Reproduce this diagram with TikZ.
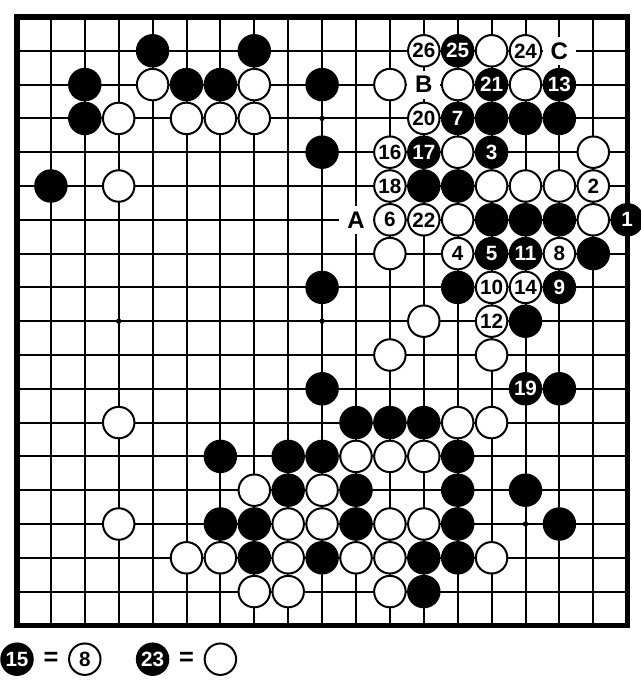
\documentclass[tikz,border=0pt]{standalone}
\usepackage{fontspec}
\setmainfont{Liberation Sans}
\begin{document}
\begin{tikzpicture}[x=25.425pt,y=-25.35pt,
  gridline/.style={line width=1.5pt},
  boardedge/.style={line width=3.8pt,line join=miter},
  stone/.style={circle,draw=black,line width=1.5pt,minimum size=23.6pt,inner sep=0pt,
    font=\fontsize{15.5}{15.5}\selectfont\bfseries},
  bst/.style={stone,fill=black,text=white},
  wst/.style={stone,fill=white,text=black},
  lbl/.style={rectangle,fill=white,inner sep=0pt,minimum width=25pt,minimum height=21pt,
    font=\fontsize{18}{18}\selectfont\bfseries},
  eqsign/.style={inner sep=0pt,font=\fontsize{19}{19}\selectfont\bfseries}]
\useasboundingbox (-0.5015,-0.503) rectangle (18.378,19.734);
% grid
\foreach \i in {1,...,17} {
  \draw[gridline] (\i,0) -- (\i,18);
  \draw[gridline] (0,\i) -- (18,\i);
}
\draw[boardedge] (0,0) rectangle (18,18);
% star points
\foreach \x in {3,9,15} \foreach \y in {3,9,15} \fill (\x,\y) circle[radius=2pt];
% unlabeled black stones
\foreach \c/\r in {4/1,7/1,2/2,5/2,6/2,9/2,2/3,14/3,15/3,16/3,9/4,1/5,12/5,13/5,14/6,15/6,16/6,17/7,9/8,13/8,15/9,9/11,16/11,10/12,11/12,12/12,6/13,8/13,9/13,13/13,8/14,10/14,13/14,15/14,6/15,7/15,10/15,13/15,16/15,7/16,9/16,12/16,13/16,12/17}
  \node[bst] (b\c-\r) at (\c,\r) {};
% unlabeled white stones
\foreach \c/\r in {14/1,4/2,7/2,11/2,13/2,15/2,3/3,5/3,6/3,7/3,13/4,17/4,3/5,14/5,15/5,16/5,13/6,17/6,11/7,12/9,11/10,14/10,3/12,13/12,14/12,10/13,11/13,12/13,7/14,9/14,3/15,8/15,9/15,11/15,12/15,5/16,6/16,8/16,10/16,11/16,14/16,7/17,8/17,11/17}
  \node[wst] (w\c-\r) at (\c,\r) {};
% numbered black stones
\foreach \c/\r/\n in {13/1/25,14/2/21,16/2/13,13/3/7,12/4/17,14/4/3,18/6/1,14/7/5,15/7/11,16/8/9,15/11/19}
  \node[bst] (m\n) at (\c,\r) {\n};
% numbered white stones
\foreach \c/\r/\n in {12/1/26,15/1/24,12/3/20,11/4/16,11/5/18,17/5/2,11/6/6,12/6/22,13/7/4,16/7/8,14/8/10,15/8/14,14/9/12}
  \node[wst] (m\n) at (\c,\r) {\n};
% letters
\node[lbl] (lA) at (10,6) {A};
\node[lbl] (lB) at (12,2) {B};
\node[lbl] (lC) at (16,1) {C};
% legend
\node[bst] (k15) at (0,19) {15};
\node[eqsign] (e1) at (1,19) {=};
\node[wst] (k8) at (2,19) {8};
\node[bst] (k23) at (4,19) {23};
\node[eqsign] (e2) at (5,19) {=};
\node[wst] (kw) at (6,19) {};
\end{tikzpicture}
\end{document}
